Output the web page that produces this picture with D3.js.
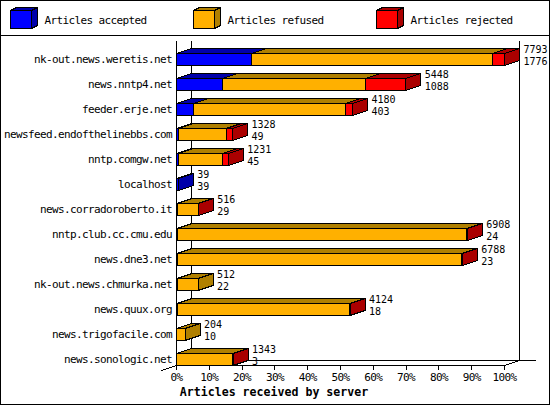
<!DOCTYPE html>
<html>
<head>
<meta charset="utf-8">
<script src="https://cdn.jsdelivr.net/npm/d3@7"></script>
<style>
  body { margin: 0; background: #fff; }
  svg { display: block; }
  text { font-family: "DejaVu Sans Mono", monospace; font-size: 11px; letter-spacing: -0.62px; fill: #000; }
  .title { font-weight: bold; font-size: 11.6px; letter-spacing: 0; }
  .value { font-size: 10px; letter-spacing: 0; }
  path, line, rect, polygon { shape-rendering: crispEdges; }
</style>
</head>
<body>
<svg id="chart" width="550" height="405"></svg>
<script>
const servers = ["nk-out.news.weretis.net", "news.nntp4.net", "feeder.erje.net",
  "newsfeed.endofthelinebbs.com", "nntp.comgw.net", "localhost", "news.corradoroberto.it",
  "nntp.club.cc.cmu.edu", "news.dne3.net", "nk-out.news.chmurka.net", "news.quux.org",
  "news.trigofacile.com", "news.sonologic.net"];
const accepted = [1776, 1088, 403, 49, 45, 39, 29, 24, 23, 22, 18, 10, 3];
const refused = [5742, 3407, 3620, 1129, 1058, 0, 483, 6864, 6745, 490, 4096, 194, 1332];
const rejected = [275, 953, 157, 150, 128, 0, 4, 20, 20, 0, 10, 0, 8];

const seriesNames = ["Articles accepted", "Articles refused", "Articles rejected"];
const seriesColors = ["#0000ff", "#ffb000", "#ff0000"];
const seriesDark = ["#0000aa", "#b08000", "#aa0000"];
const percentTicks = [0, 10, 20, 30, 40, 50, 60, 70, 80, 90, 100];

const svg = d3.select("#chart");
const width = 550, height = 405;
const depthX = 15, depthY = 5, barHeight = 12;

const totals = servers.map((s, i) => accepted[i] + refused[i] + rejected[i]);

const x = d3.scaleLinear().domain([0, d3.max(totals)]).range([176, 504]);
const xPct = d3.scaleLinear().domain([0, 100]).range([176, 504]);
const y = d3.scalePoint().domain(servers).range([53, 353]);

// frame and legend
svg.append("rect").attr("x", 0.5).attr("y", 0.5)
  .attr("width", width - 1).attr("height", height - 1)
  .attr("fill", "#fff").attr("stroke", "#000");
svg.append("line").attr("x1", 0).attr("x2", width).attr("y1", 35.5).attr("y2", 35.5).attr("stroke", "#000");

const g = svg.append("g").attr("transform", "translate(0.5,0.5)");

function box(parent, x0, x1, top, h, dx, dy, color, dark) {
  const pts = a => a.map(p => p.join(",")).join(" ");
  parent.append("polygon").attr("fill", dark).attr("stroke", "#000")
    .attr("points", pts([[x0, top], [x1, top], [x1 + dx, top - dy], [x0 + dx, top - dy]]));
  parent.append("polygon").attr("fill", dark).attr("stroke", "#000")
    .attr("points", pts([[x1, top], [x1 + dx, top - dy], [x1 + dx, top + h - dy], [x1, top + h]]));
  parent.append("rect").attr("x", x0).attr("y", top).attr("width", x1 - x0).attr("height", h)
    .attr("fill", color).attr("stroke", "#000");
}

const legendX = [10, 193, 376];
seriesNames.forEach((name, i) => {
  box(g, legendX[i], legendX[i] + 21, 10, 18, 6, 3, seriesColors[i], seriesDark[i]);
  svg.append("text").attr("x", legendX[i] + 34.5).attr("y", 20).attr("dy", "0.35em").text(name);
});

// 3d walls
g.append("line").attr("x1", 176).attr("x2", 176).attr("y1", 40).attr("y2", 365).attr("stroke", "#000");
g.append("line").attr("x1", 191).attr("x2", 191).attr("y1", 40).attr("y2", 360).attr("stroke", "#000");
g.append("line").attr("x1", 519).attr("x2", 519).attr("y1", 40).attr("y2", 360).attr("stroke", "#000");
g.append("line").attr("x1", 191).attr("x2", 535).attr("y1", 360).attr("y2", 360).attr("stroke", "#000");
g.append("line").attr("x1", 161).attr("x2", 176).attr("y1", 370).attr("y2", 365).attr("stroke", "#000");
g.append("line").attr("x1", 176).attr("x2", 191).attr("y1", 365).attr("y2", 360).attr("stroke", "#000");
g.append("line").attr("x1", 504).attr("x2", 519).attr("y1", 365).attr("y2", 360).attr("stroke", "#000");

// x axis
const axis = svg.append("g").attr("transform", "translate(0,365)")
  .call(d3.axisBottom(xPct).tickValues(percentTicks).tickSize(5).tickSizeOuter(0).tickPadding(3)
    .tickFormat(d => d + "%"));
axis.selectAll("path, line").attr("stroke", "#000");
axis.attr("font-family", null).attr("font-size", null);

svg.append("text").attr("class", "title").attr("x", 274).attr("y", 392).attr("dy", "0.35em")
  .attr("text-anchor", "middle").text("Articles received by server");

// stacked bars
servers.forEach((server, i) => {
  const row = g.append("g");
  let sum = 0;
  [accepted[i], refused[i], rejected[i]].forEach((v, k) => {
    if (v > 0) {
      box(row, x(sum), x(sum + v), y(server), barHeight, depthX, depthY, seriesColors[k], seriesDark[k]);
      sum += v;
    }
  });

  svg.append("text").attr("x", 172).attr("y", y(server) + 6).attr("dy", "0.35em")
    .attr("text-anchor", "end").text(server);

  const labelX = x(totals[i]) + depthX + 4.5;
  svg.append("text").attr("class", "value").attr("x", labelX).attr("y", y(server) - 3.5).attr("dy", "0.35em").text(totals[i]);
  svg.append("text").attr("class", "value").attr("x", labelX).attr("y", y(server) + 8.5).attr("dy", "0.35em").text(accepted[i]);
});
</script>
</body>
</html>
